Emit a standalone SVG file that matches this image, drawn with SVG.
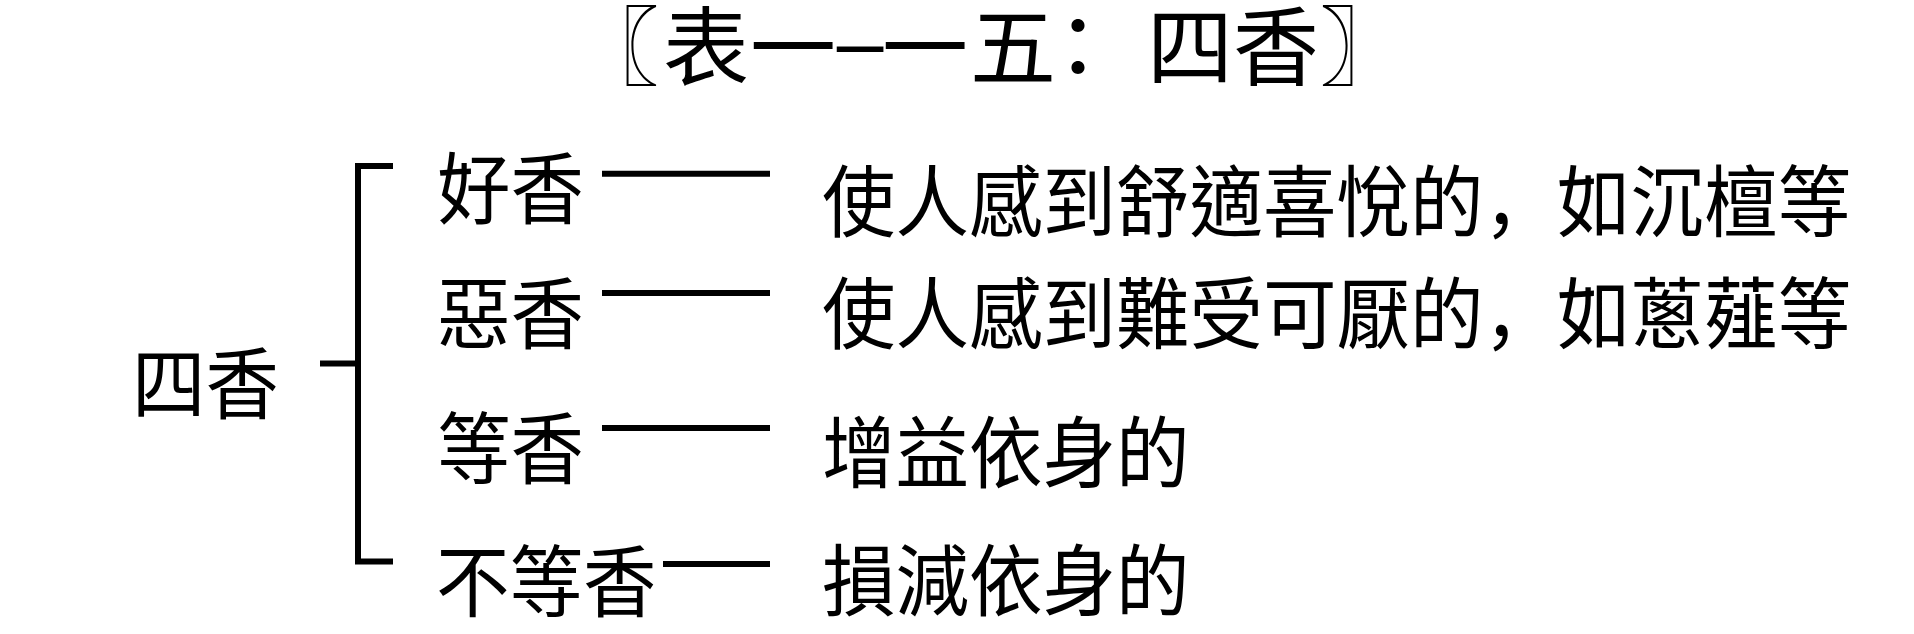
<svg xmlns="http://www.w3.org/2000/svg" width="1914" height="634" viewBox="0 0 1914 634">
<style>
.t{font-family:"Noto Sans CJK TC","Noto Sans CJK SC",sans-serif;fill:#000;}
.b{font-size:78px;}
.ti{font-size:86px;text-anchor:middle;}
.sc{font-family:"Noto Sans CJK SC","Noto Sans CJK TC",sans-serif;}
.ln{stroke:#000;stroke-width:6;fill:none;}
</style>
<rect width="1914" height="634" fill="#fff"/>
<g id="title">
<text class="t ti" y="79"><tspan x="616">〖</tspan><tspan x="706">表</tspan><tspan x="793">一</tspan><tspan x="860" y="70" style="font-family:'Liberation Sans',sans-serif;font-size:84px">–</tspan><tspan x="925" y="79">一</tspan><tspan x="1013">五</tspan><tspan x="1078">：</tspan><tspan x="1190">四</tspan><tspan x="1276">香</tspan><tspan x="1363">〗</tspan></text>
</g>
<g id="root"><text class="t b" x="132" y="413" textLength="147" lengthAdjust="spacingAndGlyphs">四香</text></g>
<g id="n1">
<text class="t b" x="437" y="218" textLength="147" lengthAdjust="spacingAndGlyphs">好香</text>
<text class="t b" x="822" y="231" textLength="1029" lengthAdjust="spacingAndGlyphs">使人感到舒適喜悅的<tspan class="sc">，</tspan>如沉檀等</text>
</g>
<g id="n2">
<text class="t b" x="437" y="343" textLength="147" lengthAdjust="spacingAndGlyphs">惡香</text>
<text class="t b" x="822" y="343" textLength="1029" lengthAdjust="spacingAndGlyphs">使人感到難受可厭的<tspan class="sc">，</tspan>如蔥薤等</text>
</g>
<g id="n3">
<text class="t b" x="437" y="478" textLength="147" lengthAdjust="spacingAndGlyphs">等香</text>
<text class="t b" x="822" y="482" textLength="367.5" lengthAdjust="spacingAndGlyphs">增益依身的</text>
</g>
<g id="n4">
<text class="t b" x="436" y="611" textLength="220.5" lengthAdjust="spacingAndGlyphs">不等香</text>
<text class="t b" x="822" y="610" textLength="367.5" lengthAdjust="spacingAndGlyphs">損減依身的</text>
</g>
<g id="connectors">
<path class="ln" d="M393,166 H358 V561.5 H393"/>
<path class="ln" d="M320,363.5 H358"/>
<path class="ln" d="M602,173.7 H770"/>
<path class="ln" d="M602,293 H770"/>
<path class="ln" d="M602,428 H770"/>
<path class="ln" d="M663,564 H770"/>
</g>
</svg>
